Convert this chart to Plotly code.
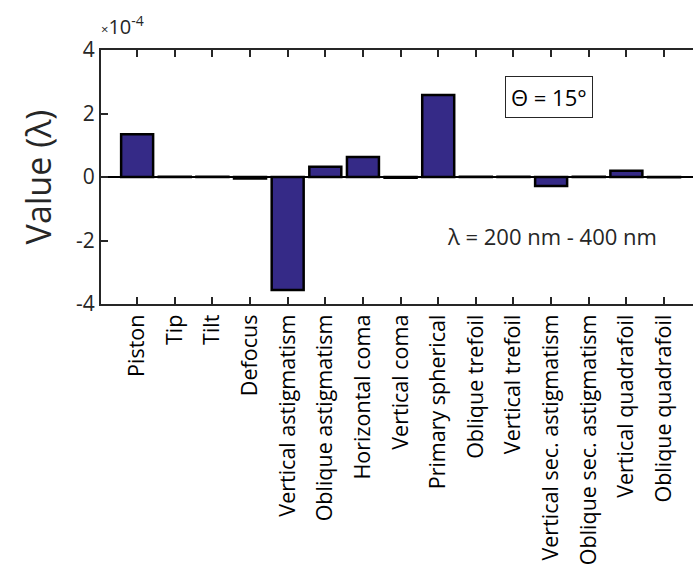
import plotly.graph_objects as go

categories = ["Piston", "Tip", "Tilt", "Defocus", "Vertical astigmatism",
              "Oblique astigmatism", "Horizontal coma", "Vertical coma",
              "Primary spherical", "Oblique trefoil", "Vertical trefoil",
              "Vertical sec. astigmatism", "Oblique sec. astigmatism",
              "Vertical quadrafoil", "Oblique quadrafoil"]
values_e4 = [1.35, 0.01, 0.01, -0.05, -3.56, 0.32, 0.63, -0.02, 2.58,
             0.01, 0.01, -0.28, 0.01, 0.20, -0.01]
y_ticks = [-4, -2, 0, 2, 4]
y_ticktext = ["-4", "-2", "0", "2", "4"]

FONT = "Open Sans"
AX = "#262626"

fig = go.Figure()
fig.add_trace(go.Bar(
    x=categories, y=values_e4, width=0.85,
    marker=dict(color="#352A87", line=dict(color="black", width=2.5)),
))

fig.update_layout(
    width=693, height=586,
    margin=dict(l=101, r=0, t=50, b=282),
    paper_bgcolor="white", plot_bgcolor="white",
    showlegend=False,
    font=dict(family=FONT, color=AX, size=21),
    xaxis=dict(
        range=[-0.96, 14.77], tickangle=-90,
        showline=True, linecolor=AX, linewidth=2,
        ticks="inside", ticklen=7, tickwidth=2, tickcolor=AX,
        mirror="ticks", showgrid=False,
        tickfont=dict(family=FONT, size=21.5, color="black"),
    ),
    yaxis=dict(
        range=[-4, 4], tickvals=y_ticks, ticktext=y_ticktext,
        showline=True, linecolor=AX, linewidth=2,
        ticks="inside", ticklen=7, tickwidth=2, tickcolor=AX,
        showgrid=False, zeroline=True, zerolinecolor="black", zerolinewidth=2,
        tickfont=dict(family=FONT, size=21, color=AX),
        title=dict(text="Value (λ)", font=dict(family=FONT, size=34, color=AX), standoff=14),
    ),
)

fig.add_annotation(xref="paper", yref="paper", x=-0.003, y=1.03, xanchor="left", yanchor="bottom",
                   text="<span style='font-size:13px'>×</span>10<sup>-4</sup>", showarrow=False,
                   font=dict(family=FONT, size=20, color=AX))
fig.add_annotation(xref="paper", yref="paper", x=(549 - 101) / 592, y=(304 - 97) / 254,
                   xanchor="center", yanchor="middle",
                   text="Θ = 15°", showarrow=False, bordercolor=AX, borderwidth=1,
                   borderpad=5, bgcolor="white",
                   font=dict(family=FONT, size=22, color="black"))
fig.add_annotation(xref="paper", yref="paper", x=(552 - 101) / 592, y=(304 - 236) / 254,
                   xanchor="center", yanchor="middle",
                   text="λ = 200 nm - 400 nm", showarrow=False,
                   font=dict(family=FONT, size=22, color=AX))

fig.write_html("out.html")
